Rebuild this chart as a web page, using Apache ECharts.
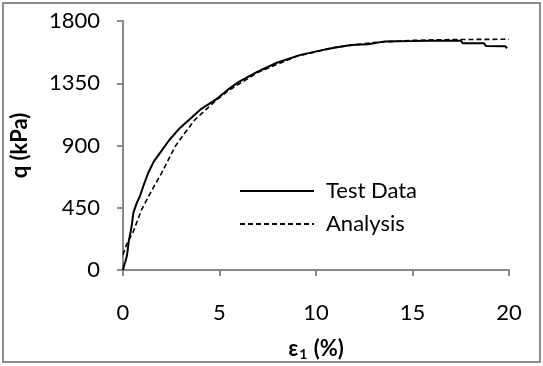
<!DOCTYPE html>
<html>
<head>
<meta charset="utf-8">
<script src="https://cdn.jsdelivr.net/npm/echarts@6/dist/echarts.min.js"></script>
<style>
  html, body { margin: 0; padding: 0; background: #fff; }
  #chart { width: 543px; height: 366px; }
</style>
</head>
<body>
<div id="chart"></div>
<script>
// Axial strain (%) vs deviator stress q (kPa)
const testStrain = [0, 0.05, 0.12, 0.2, 0.25, 0.3, 0.38, 0.45, 0.54, 0.7, 0.88, 1.1, 1.31, 1.6, 1.92, 2.4, 2.95, 3.5, 4.0, 4.8, 5.4, 6.0, 7.0, 8.0, 9.2, 10.5, 11.8, 12.7, 13.5, 15.0, 16.0, 17.5, 17.6, 18.7, 18.8, 19.8, 19.9];
const testQ      = [0, 30, 60, 101, 150, 210, 265, 319, 415, 480, 535, 625, 703, 785, 847, 940, 1027, 1095, 1159, 1231, 1300, 1360, 1435, 1500, 1555, 1595, 1627, 1632, 1651, 1655, 1658, 1658, 1640, 1640, 1620, 1618, 1603];

const analysisStrain = [0, 0.2, 0.52, 0.97, 1.66, 2.0, 2.7, 3.2, 3.73, 4.86, 5.5, 7, 9, 11, 13, 15, 17, 20];
const analysisQ      = [110, 190, 273, 439, 619, 700, 893, 990, 1087, 1231, 1300, 1430, 1545, 1610, 1645, 1660, 1666, 1668];

const xTicks = { min: 0, max: 20, step: 5 };
const yTicks = { min: 0, max: 1800, step: 450 };

const seriesNames = ['Test Data', 'Analysis'];

function pairs(xs, ys) { return xs.map((x, i) => [x, ys[i]]); }

const FONT = 'Lato, "Liberation Sans", sans-serif';
const FS = 22;
const AXIS_GREY = '#898989';

const chart = echarts.init(document.getElementById('chart'), null, { renderer: 'canvas' });
chart.setOption({
  animation: false,
  backgroundColor: '#fff',
  textStyle: { fontFamily: FONT },
  grid: { left: 123, right: 34, top: 21, bottom: 95 },
  graphic: [{
    type: 'rect',
    shape: { x: 3, y: 3, width: 537, height: 359 },
    style: { fill: 'none', stroke: '#8c8c8c', lineWidth: 2 },
    silent: true
  }],
  legend: {
    orient: 'vertical',
    left: 239,
    top: 180,
    padding: 0,
    itemWidth: 74,
    itemHeight: 22,
    itemGap: 11,
    itemStyle: { opacity: 0 },
    textStyle: { fontFamily: FONT, fontSize: FS, color: '#000', padding: [6, 0, 0, 7] },
    data: seriesNames
  },
  xAxis: {
    type: 'value',
    min: xTicks.min, max: xTicks.max, interval: xTicks.step,
    name: '{e|ε}{s|1}{e| (%)}',
    nameLocation: 'middle',
    nameGap: 67,
    nameTextStyle: {
      rich: {
        e: { fontFamily: FONT, fontSize: FS, fontWeight: 'bold', color: '#000' },
        s: { fontFamily: FONT, fontSize: 14, fontWeight: 'bold', color: '#000', padding: [10, 1, 0, 1] }
      }
    },
    axisLine: { show: true, lineStyle: { color: AXIS_GREY, width: 2 } },
    axisTick: { show: true, inside: false, length: 6, lineStyle: { color: AXIS_GREY, width: 2 } },
    axisLabel: { margin: 32, fontSize: FS, color: '#000', fontFamily: FONT, formatter: v => String(v) },
    splitLine: { show: false }
  },
  yAxis: {
    type: 'value',
    min: yTicks.min, max: yTicks.max, interval: yTicks.step,
    name: 'q (kPa)',
    nameLocation: 'middle',
    nameRotate: 90,
    nameGap: 92,
    nameTextStyle: { fontFamily: FONT, fontSize: FS, fontWeight: 'bold', color: '#000' },
    axisLine: { show: true, lineStyle: { color: AXIS_GREY, width: 2 } },
    axisTick: { show: true, inside: false, length: 6, lineStyle: { color: AXIS_GREY, width: 2 } },
    axisLabel: { margin: 23, fontSize: FS, color: '#000', fontFamily: FONT, formatter: v => String(v) },
    splitLine: { show: false }
  },
  series: [
    {
      name: seriesNames[0],
      type: 'line',
      data: pairs(testStrain, testQ),
      symbol: 'none',
      lineStyle: { color: '#000', width: 2 },
      itemStyle: { color: '#000' }
    },
    {
      name: seriesNames[1],
      type: 'line',
      data: pairs(analysisStrain, analysisQ),
      symbol: 'none',
      lineStyle: { color: '#000', width: 1.6, type: [5, 3] },
      itemStyle: { color: '#000' }
    }
  ]
});
</script>
</body>
</html>
